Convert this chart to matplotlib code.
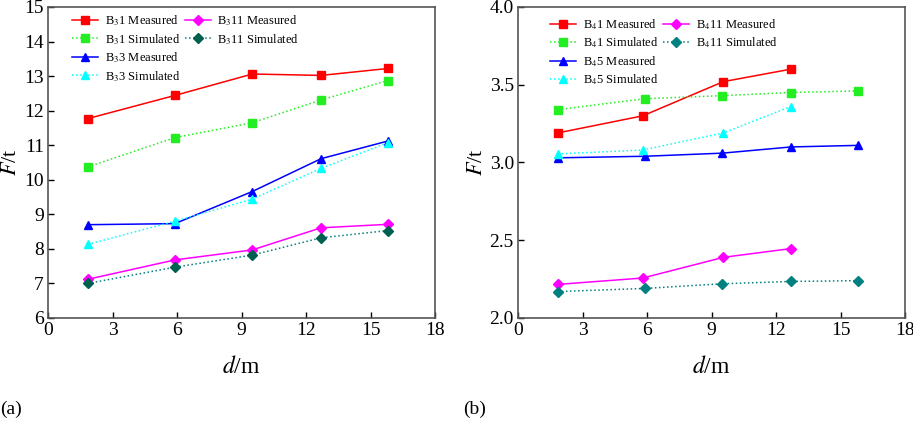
import matplotlib
matplotlib.use("Agg")
import matplotlib.pyplot as plt
from matplotlib.lines import Line2D

plt.rcParams['font.family'] = 'Liberation Serif'
plt.rcParams['mathtext.fontset'] = 'stix'

# distance along the bolt (m)
d5 = [1.85, 5.9, 9.5, 12.7, 15.8]
d4 = [1.85, 5.8, 9.55, 12.68]

# (a) B3 anchor group
b31_meas = [11.77, 12.44, 13.06, 13.02, 13.22]
b31_sim = [10.37, 11.22, 11.65, 12.31, 12.87]
b33_meas = [8.70, 8.73, 9.66, 10.61, 11.12]
b33_sim = [8.13, 8.80, 9.44, 10.33, 11.07]
b311_meas = [7.12, 7.68, 7.97, 8.61, 8.71]
b311_sim = [7.00, 7.47, 7.82, 8.32, 8.53]

# (b) B4 anchor group
b41_meas = [3.19, 3.30, 3.52, 3.60]
b41_sim = [3.34, 3.41, 3.43, 3.45, 3.46]
b45_meas = [3.03, 3.04, 3.06, 3.10, 3.11]
b45_sim = [3.055, 3.08, 3.19, 3.36]
b411_meas = [2.216, 2.257, 2.39, 2.446]
b411_sim = [2.17, 2.19, 2.22, 2.235, 2.24]

xticks = [0, 3, 6, 9, 12, 15, 18]

fig = plt.figure(figsize=(9.13, 4.21), dpi=100)
axa = fig.add_axes([0.0526, 0.2447, 0.4239, 0.7387])
axb = fig.add_axes([0.5674, 0.2447, 0.4239, 0.7387])

RED = '#ff0000'
GREEN = '#22ee22'
BLUE = '#0000ff'
CYAN = '#00ffff'
MAG = '#ff00ff'
TEAL = '#008080'


def draw(ax, series, leg_xy):
    handles = []
    for x, y, lab, col, mk, ls, mfc in series:
        h, = ax.plot(x, y, color=col, marker=mk, linestyle=ls, lw=1.1,
                     markersize=5.5 if mk != 'D' else 5, markerfacecolor=mfc,
                     markeredgecolor=mfc, label=lab)
        handles.append(h)
    blank = Line2D([], [], linestyle='none', marker='none')
    order = handles[:6] + [blank, blank]
    labels = [h.get_label() if h is not blank else '' for h in order]
    ax.legend(order, labels, ncol=2, loc='upper left', frameon=False,
              fontsize=9, handlelength=2.1, handletextpad=0.5,
              columnspacing=0.4, labelspacing=0.3, borderpad=0,
              bbox_to_anchor=leg_xy, borderaxespad=0)
    ax.set_xlim(0, 18)
    ax.set_xticks(xticks)
    ax.tick_params(direction='in', length=4, labelsize=14, colors='black',
                   width=1, pad=3)
    for sp in ax.spines.values():
        sp.set_color('#555555')
        sp.set_linewidth(1.2)
    ax.set_xlabel(r'$d$/m', fontsize=17, labelpad=12)
    ax.set_ylabel(r'$F$/t', fontsize=16, labelpad=2)


draw(axa, [
    (d5, b31_meas, r'B$_3$1 Measured', RED, 's', '-', RED),
    (d5, b31_sim, r'B$_3$1 Simulated', GREEN, 's', ':', GREEN),
    (d5, b33_meas, r'B$_3$3 Measured', BLUE, '^', '-', BLUE),
    (d5, b33_sim, r'B$_3$3 Simulated', CYAN, '^', ':', CYAN),
    (d5, b311_meas, r'B$_3$11 Measured', MAG, 'D', '-', MAG),
    (d5, b311_sim, r'B$_3$11 Simulated', TEAL, 'D', ':', '#00604f'),
], (0.062, 0.98))
axa.set_ylim(6, 15)
axa.set_yticks(range(6, 16))

draw(axb, [
    (d4, b41_meas, r'B$_4$1 Measured', RED, 's', '-', RED),
    (d5, b41_sim, r'B$_4$1 Simulated', GREEN, 's', ':', GREEN),
    (d5, b45_meas, r'B$_4$5 Measured', BLUE, '^', '-', BLUE),
    (d4, b45_sim, r'B$_4$5 Simulated', CYAN, '^', ':', CYAN),
    (d4, b411_meas, r'B$_4$11 Measured', MAG, 'D', '-', MAG),
    (d5, b411_sim, r'B$_4$11 Simulated', TEAL, 'D', ':', TEAL),
], (0.083, 0.968))
axb.set_ylim(2.0, 4.0)
axb.set_yticks([2.0, 2.5, 3.0, 3.5, 4.0])
axb.set_yticklabels(['2.0', '2.5', '3.0', '3.5', '4.0'])

fig.text(0.0, 0.027, '(a)', fontsize=14, ha='left', va='center')
fig.text(0.507, 0.027, '(b)', fontsize=14, ha='left', va='center')

fig.savefig('out.png', dpi=100)
